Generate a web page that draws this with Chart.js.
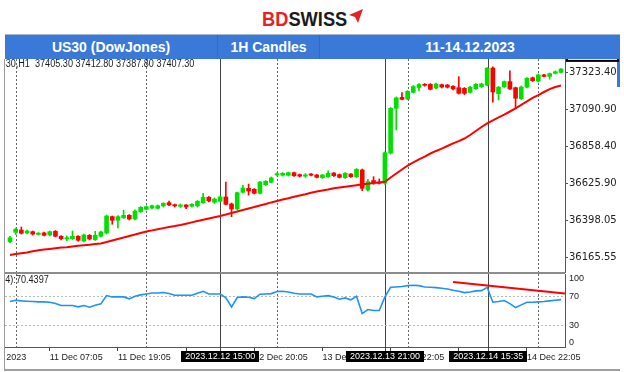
<!DOCTYPE html>
<html lang="en">
<head>
<meta charset="UTF-8">
<title>US30 (DowJones) - 1H Candles</title>
<script src="https://cdn.jsdelivr.net/npm/chart.js"></script>
<style>
  body { margin: 0; width: 624px; height: 372px; overflow: hidden; background: #fff; position: relative;
         font-family: "Liberation Sans", Arial, sans-serif; }
  .abs { position: absolute; }
  #logo { left: 262px; top: 8px; font-weight: bold; font-size: 21px; line-height: 22px; white-space: nowrap;
          transform: scaleX(0.87); transform-origin: 0 0; }
  #logo .bd { color: #e42327; }
  #logo .sw { color: #1b1b1b; }
  #band { left: 5px; top: 34px; width: 615px; height: 25px; box-sizing: border-box; background: #3a79d8;
          border-top: 1px solid #a7b7cf; display: flex; color: #fff; font-weight: bold; font-size: 14px; }
  #band div { display: flex; align-items: center; justify-content: center; box-sizing: border-box;
              border-right: 1px solid #336bc4; }
  .clip { overflow: hidden; height: 12px; }
  .clip div { position: absolute; top: 0; white-space: pre; font-size: 10px; line-height: 10px; color: #1a1a1a;
              transform: scaleX(0.91); transform-origin: 0 0; }
  canvas { position: absolute; left: 0; }
</style>
</head>
<body>
  <div id="logo" class="abs"><span class="bd">BD</span><span class="sw">SWISS</span></div>
  <svg class="abs" style="left:349px;top:9px" width="14" height="14"><polygon points="0,6 14,0 9,14 6,8" fill="#e42327"/></svg>

  <div id="band" class="abs">
    <div style="width:213px">US30 (DowJones)</div>
    <div style="width:102px">1H Candles</div>
    <div style="width:300px;border-right:none">11-14.12.2023</div>
  </div>
  <div class="abs" style="left:617px;top:59px;width:3px;height:28px;background:#3a79d8"></div>

  <canvas id="priceChart" width="624" height="214" style="top:59px"></canvas>
  <canvas id="rsiChart" width="624" height="98" style="top:274px"></canvas>

  <div class="abs clip" style="left:5px;top:59px;width:300px"><div style="left:-12px">US30,H1  37405.30 37412.80 37387.80 37407.30</div></div>
  <div class="abs clip" style="left:5px;top:275px;width:200px"><div style="left:-23px">RSI(14):70.4397</div></div>

  <div class="abs" style="left:5px;top:272px;width:560px;height:2px;background:#8c8c8c"></div>
  <div class="abs" style="left:0;top:59px;width:4px;height:313px;background:#fff"></div>
  <div class="abs" style="left:4px;top:59px;width:1px;height:311px;background:#9a9a9a"></div>
  <div class="abs" style="left:4px;top:369px;width:616px;height:2px;background:#a0a0a0"></div>

<script>
// Hourly candles, 11-14 Dec 2023 (bar index 0..97)
const open = [36263, 36322, 36336, 36318, 36326, 36309, 36318, 36305, 36328, 36297,
  36280, 36282, 36297, 36267, 36303, 36276, 36297, 36318, 36420, 36397,
  36413, 36428, 36405, 36451, 36466, 36474, 36472, 36487, 36507, 36495,
  36485, 36493, 36485, 36487, 36507, 36541, 36510, 36516, 36543, 36499,
  36468, 36572, 36597, 36591, 36566, 36620, 36635, 36681, 36679, 36679,
  36695, 36683, 36673, 36687, 36681, 36664, 36670, 36693, 36683, 36664,
  36687, 36670, 36712, 36587, 36646, 36637, 36629, 36818, 37098, 37166,
  37156, 37198, 37228, 37248, 37248, 37225, 37246, 37244, 37236, 37227,
  37223, 37198, 37221, 37233, 37244, 37350, 37190, 37233, 37265, 37227,
  37158, 37230, 37289, 37268, 37307, 37298, 37317, 37323];
const high = [36296, 36349, 36355, 36336, 36330, 36321, 36324, 36330, 36333, 36302,
  36299, 36330, 36302, 36311, 36308, 36328, 36330, 36430, 36424, 36427,
  36460, 36433, 36462, 36483, 36487, 36493, 36493, 36508, 36518, 36499,
  36499, 36496, 36502, 36521, 36566, 36546, 36537, 36549, 36637, 36505,
  36574, 36618, 36624, 36596, 36640, 36646, 36668, 36693, 36696, 36699,
  36699, 36687, 36689, 36690, 36684, 36684, 36706, 36696, 36687, 36696,
  36690, 36721, 36718, 36654, 36670, 36656, 36825, 37103, 37169, 37196,
  37209, 37241, 37253, 37253, 37253, 37256, 37250, 37247, 37241, 37296,
  37228, 37235, 37253, 37256, 37353, 37357, 37235, 37269, 37332, 37231,
  37238, 37291, 37294, 37313, 37310, 37319, 37332, 37347];
const low = [36255, 36308, 36311, 36311, 36305, 36305, 36299, 36299, 36293, 36274,
  36269, 36277, 36267, 36261, 36274, 36271, 36293, 36311, 36372, 36349,
  36408, 36399, 36399, 36446, 36462, 36468, 36468, 36480, 36488, 36480,
  36477, 36470, 36480, 36480, 36502, 36512, 36502, 36512, 36493, 36420,
  36462, 36568, 36555, 36562, 36562, 36615, 36631, 36674, 36674, 36674,
  36671, 36668, 36666, 36674, 36662, 36659, 36665, 36671, 36662, 36659,
  36665, 36665, 36582, 36580, 36622, 36624, 36621, 36812, 36962, 37150,
  37152, 37194, 37208, 37236, 37213, 37219, 37225, 37225, 37213, 37187,
  37184, 37194, 37216, 37228, 37238, 37137, 37150, 37228, 37216, 37097,
  37153, 37225, 37266, 37263, 37294, 37280, 37313, 37319];
const close = [36288, 36341, 36316, 36330, 36311, 36316, 36303, 36326, 36297, 36282,
  36288, 36297, 36272, 36305, 36280, 36303, 36324, 36424, 36397, 36420,
  36428, 36405, 36455, 36478, 36482, 36488, 36488, 36503, 36493, 36487,
  36493, 36480, 36497, 36516, 36541, 36518, 36530, 36543, 36497, 36468,
  36570, 36599, 36580, 36566, 36637, 36641, 36662, 36689, 36691, 36695,
  36676, 36673, 36681, 36679, 36666, 36681, 36691, 36676, 36666, 36691,
  36670, 36716, 36597, 36639, 36634, 36629, 36820, 37098, 37163, 37154,
  37204, 37234, 37247, 37242, 37217, 37250, 37231, 37230, 37219, 37192,
  37192, 37230, 37248, 37250, 37349, 37200, 37230, 37265, 37219, 37161,
  37231, 37286, 37271, 37307, 37298, 37315, 37327, 37344];
// moving average (red line)
const ma = [36180, 36186, 36191, 36196, 36203, 36209, 36214, 36218, 36222, 36226,
  36229, 36233, 36237, 36241, 36244, 36248, 36252, 36261, 36271, 36280,
  36289, 36299, 36308, 36318, 36327, 36334, 36341, 36348, 36355, 36361,
  36368, 36376, 36384, 36392, 36400, 36408, 36416, 36424, 36433, 36443,
  36452, 36462, 36471, 36480, 36490, 36499, 36509, 36518, 36527, 36535,
  36544, 36552, 36560, 36569, 36577, 36584, 36590, 36597, 36602, 36607,
  36612, 36617, 36622, 36626, 36631, 36634, 36638, 36665, 36690, 36715,
  36740, 36759, 36778, 36796, 36815, 36831, 36846, 36862, 36878, 36893,
  36909, 36931, 36956, 36981, 37003, 37022, 37041, 37059, 37078, 37097,
  37119, 37141, 37163, 37181, 37200, 37218, 37231, 37241];
// RSI(14)
const rsi = [62.9, 64.7, 63.8, 63.3, 62.9, 62.4, 62.4, 62.0, 60.1, 57.4,
  57.4, 57.4, 55.5, 57.4, 55.1, 57.8, 59.7, 71.2, 69.3, 69.3,
  69.3, 66.6, 70.2, 72.1, 73.4, 74.8, 74.8, 75.3, 73.9, 71.6,
  71.6, 71.6, 71.6, 74.4, 77.1, 73.4, 73.4, 73.4, 67.9, 55.5,
  68.4, 69.3, 68.8, 67.0, 73.0, 73.4, 73.9, 76.7, 77.1, 76.2,
  74.4, 73.4, 73.4, 73.4, 69.3, 70.2, 71.1, 69.3, 66.1, 67.9,
  65.2, 70.2, 46.3, 51.8, 50.5, 50.5, 69.3, 82.6, 83.1, 83.6,
  84.9, 85.4, 84.9, 83.1, 82.6, 82.2, 81.3, 80.3, 78.5, 77.1,
  75.3, 76.2, 77.6, 78.0, 82.6, 62.0, 62.9, 64.3, 60.1, 54.6,
  58.3, 62.0, 62.0, 62.4, 62.9, 63.8, 64.7, 65.6];
// RSI trend line (bar, value)
const rsiTrend = [{ x: 78, y: 90.0 }, { x: 97.7, y: 73.9 }];

const priceTicks = [36165.55, 36398.05, 36625.90, 36858.40, 37090.90, 37323.40];
const bid = 37407.30;
const rsiLevels = [70, 30];
const rsiAxisLabels = [100, 70, 30, 0];

const xTickBars = [-6, 7, 19, 31, 43, 55, 67, 79, 91];
const xTickLabels = ['11 Dec 2023', '11 Dec 07:05', '11 Dec 19:05', '12 Dec 08:05', '12 Dec 20:05',
  '13 Dec 08:05', '13 Dec 22:05', '14 Dec 09:05', '14 Dec 22:05'];
const daySeparators = [1, 24, 47, 70, 93];
const markerBars = [37, 66, 84.2];
const markerLabels = ['2023.12.12 15:00', '2023.12.13 21:00', '2023.12.14 15:35'];

const GREEN = '#00e000', RED = '#ff0000';
const X_MIN = -0.88, X_MAX = 97.7;
Chart.defaults.font.family = '"Liberation Sans", Arial, sans-serif';

const candleColors = close.map((c, i) => c >= open[i] ? GREEN : RED);

// vertical lines shared by both panels
function vLines(extraBottom) {
  return {
    id: 'vlines',
    beforeDatasetsDraw(chart) {
      const { ctx, chartArea: a, scales: { x } } = chart;
      ctx.save();
      ctx.lineWidth = 1;
      ctx.strokeStyle = '#666';
      ctx.setLineDash([2, 2]);
      daySeparators.forEach(b => {
        const px = Math.round(x.getPixelForValue(b)) + 0.5;
        ctx.beginPath(); ctx.moveTo(px, a.top); ctx.lineTo(px, a.bottom); ctx.stroke();
      });
      ctx.setLineDash([]);
      ctx.strokeStyle = '#444';
      markerBars.forEach(b => {
        const px = Math.round(x.getPixelForValue(b)) + 0.5;
        ctx.beginPath(); ctx.moveTo(px, a.top); ctx.lineTo(px, a.bottom + extraBottom); ctx.stroke();
      });
      ctx.restore();
    }
  };
}

const bidBox = {
  id: 'bidBox',
  afterDraw(chart) {
    const { ctx, chartArea: a, scales: { y } } = chart;
    const py = y.getPixelForValue(bid);
    ctx.save();
    ctx.lineWidth = 2;
    ctx.strokeStyle = '#000';
    ctx.strokeRect(a.right + 2, py - 10, 51, 12);
    ctx.restore();
  }
};

new Chart(document.getElementById('priceChart'), {
  type: 'bar',
  data: {
    datasets: [
      {
        type: 'line',
        data: ma.map((v, i) => ({ x: i, y: v })),
        borderColor: RED,
        borderWidth: 2,
        pointRadius: 0,
        order: 0
      },
      {
        data: low.map((v, i) => ({ x: i, y: [v, high[i]] })),
        backgroundColor: candleColors,
        barThickness: 1,
        grouped: false,
        order: 2
      },
      {
        data: open.map((v, i) => ({ x: i, y: [v, close[i]] })),
        backgroundColor: candleColors,
        barThickness: 4,
        minBarLength: 1,
        grouped: false,
        order: 1
      }
    ]
  },
  options: {
    responsive: false,
    animation: false,
    layout: { padding: { left: 5, top: 0, right: 0, bottom: 1 } },
    plugins: { legend: { display: false }, tooltip: { enabled: false } },
    scales: {
      x: { type: 'linear', min: X_MIN, max: X_MAX, offset: false, display: false },
      y: {
        position: 'right',
        min: 36073.4,
        max: 37406.6,
        beginAtZero: false,
        afterBuildTicks: s => { s.ticks = priceTicks.map(v => ({ value: v })); },
        afterFit: s => { s.width = 59; s.paddingTop = 0; s.paddingBottom = 0; },
        ticks: {
          padding: 1,
          color: '#222',
          font: { family: '"DejaVu Sans"', size: 10 },
          callback: v => Number(v).toFixed(2)
        },
        grid: { drawOnChartArea: false, tickLength: 3, color: '#555' },
        border: { color: '#555' }
      }
    }
  },
  plugins: [vLines(0), bidBox]
});

const rsiDecor = {
  id: 'rsiDecor',
  beforeDatasetsDraw(chart) {
    const { ctx, chartArea: a, scales: { y } } = chart;
    ctx.save();
    ctx.strokeStyle = '#b8b8b8';
    ctx.lineWidth = 1;
    ctx.setLineDash([2, 2]);
    rsiLevels.forEach(v => {
      const py = Math.round(y.getPixelForValue(v)) + 0.5;
      ctx.beginPath(); ctx.moveTo(a.left, py); ctx.lineTo(a.right, py); ctx.stroke();
    });
    ctx.restore();
  },
  afterDraw(chart) {
    const { ctx, chartArea: a, scales: { x, y } } = chart;
    ctx.save();
    ctx.font = '9px "Liberation Sans"';
    ctx.fillStyle = '#222';
    ctx.textAlign = 'left';
    ctx.textBaseline = 'middle';
    rsiAxisLabels.forEach(v => {
      let py = y.getPixelForValue(v);
      py = Math.min(Math.max(py, a.top + 5), a.bottom - 4.5);
      ctx.fillText(String(v), a.right + 4, py);
    });
    ctx.textAlign = 'center';
    markerBars.forEach((b, i) => {
      const px = x.getPixelForValue(b);
      const w = Math.round(ctx.measureText(markerLabels[i]).width + 8);
      ctx.fillStyle = '#000';
      ctx.fillRect(Math.round(px - w / 2), a.bottom + 4, w, 11);
      ctx.fillStyle = '#fff';
      ctx.fillText(markerLabels[i], px, a.bottom + 9.8);
    });
    ctx.restore();
  }
};

new Chart(document.getElementById('rsiChart'), {
  type: 'line',
  data: {
    datasets: [
      {
        data: rsi.map((v, i) => ({ x: i, y: v })),
        borderColor: '#1e90ff',
        borderWidth: 1.6,
        pointRadius: 0
      },
      {
        data: rsiTrend,
        borderColor: RED,
        borderWidth: 2,
        pointRadius: 0
      }
    ]
  },
  options: {
    responsive: false,
    animation: false,
    layout: { padding: { left: 5, top: 0, right: 0, bottom: 0 } },
    plugins: { legend: { display: false }, tooltip: { enabled: false } },
    scales: {
      x: {
        type: 'linear',
        min: X_MIN,
        max: X_MAX,
        afterBuildTicks: s => { s.ticks = xTickBars.map(v => ({ value: v })); },
        afterFit: s => { s.height = 25; s.paddingLeft = 0; s.paddingRight = 0; },
        ticks: {
          autoSkip: false,
          maxRotation: 0,
          align: 'start',
          padding: 1,
          color: '#222',
          font: { size: 9 },
          callback: (v, i) => xTickLabels[i]
        },
        grid: { drawOnChartArea: false, tickLength: 4, color: '#444' },
        border: { color: '#555' }
      },
      y: {
        position: 'right',
        min: 0,
        max: 101,
        afterFit: s => { s.width = 59; s.paddingTop = 0; s.paddingBottom = 0; },
        ticks: { display: false },
        grid: { drawOnChartArea: false, drawTicks: false },
        border: { color: '#555' }
      }
    }
  },
  plugins: [vLines(4), rsiDecor]
});
</script>
</body>
</html>
